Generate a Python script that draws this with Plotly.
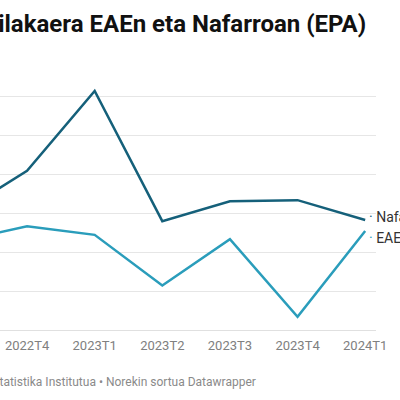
import plotly.graph_objects as go

# Langabezia tasa (%) - EPA, hiruhilekoka
quarters = ["2022T3", "2022T4", "2023T1", "2023T2", "2023T3", "2023T4", "2024T1"]
nafarroa = [9.00, 10.08, 12.13, 8.79, 9.30, 9.33, 8.82]
eae = [8.28, 8.66, 8.44, 7.14, 8.33, 6.34, 8.54]

navy = "#15607a"
teal = "#2a9dbb"
font = "Roboto"

fig = go.Figure()
fig.add_trace(go.Scatter(x=quarters, y=nafarroa, name="Nafarroa", mode="lines",
                         line=dict(color=navy, width=2.5)))
fig.add_trace(go.Scatter(x=quarters, y=eae, name="EAE", mode="lines",
                         line=dict(color=teal, width=2.5)))

# line labels at the right end (pushed apart a little like datawrapper does)
fig.add_annotation(x=quarters[-1], y=nafarroa[-1], xref="x", yref="y",
                   text=f"<span style='color:{navy}'>·</span> Nafarroa",
                   xanchor="left", yanchor="middle", xshift=2, yshift=3,
                   showarrow=False, font=dict(family=font, size=14, color="#333333"))
fig.add_annotation(x=quarters[-1], y=eae[-1], xref="x", yref="y",
                   text=f"<span style='color:{teal}'>·</span> EAE",
                   xanchor="left", yanchor="middle", xshift=2, yshift=-7,
                   showarrow=False, font=dict(family=font, size=14, color="#333333"))

# title and footer (left part falls outside the window)
fig.add_annotation(x=1, y=1, xref="paper", yref="paper", xshift=-8, yshift=33,
                   text="<b>Langabeziaren bilakaera EAEn eta Nafarroan (EPA)</b>",
                   xanchor="right", yanchor="middle", showarrow=False,
                   font=dict(family=font, size=24, color="#111111"))
fig.add_annotation(x=258 / 376, y=0, xref="paper", yref="paper", yshift=-52,
                   text="Iturria: Espainiako Estatistika Institutua • Norekin sortua Datawrapper",
                   xanchor="right", yanchor="middle", showarrow=False,
                   font=dict(family=font, size=12, color="#8a8a8a"))

fig.update_layout(
    width=400, height=400,
    margin=dict(l=0, r=24, t=57, b=70),
    paper_bgcolor="white", plot_bgcolor="white",
    showlegend=False,
    font=dict(family=font),
    xaxis=dict(type="category", range=[0.6, 6.16], showgrid=False,
               showline=True, linecolor="#e0e0e0", linewidth=1,
               ticks="", ticklabelstandoff=3,
               tickfont=dict(family=font, size=13, color="#808080"),
               fixedrange=True),
    yaxis=dict(range=[6, 13], dtick=1, showgrid=True, gridcolor="#e6e6e6",
               gridwidth=1, zeroline=False, showticklabels=False,
               fixedrange=True),
)

# drop the browser's default 8px body margin so the chart sits at the window corner
fig.write_html("out.html", config={"displayModeBar": False},
               post_script="document.body.style.margin='0';")
